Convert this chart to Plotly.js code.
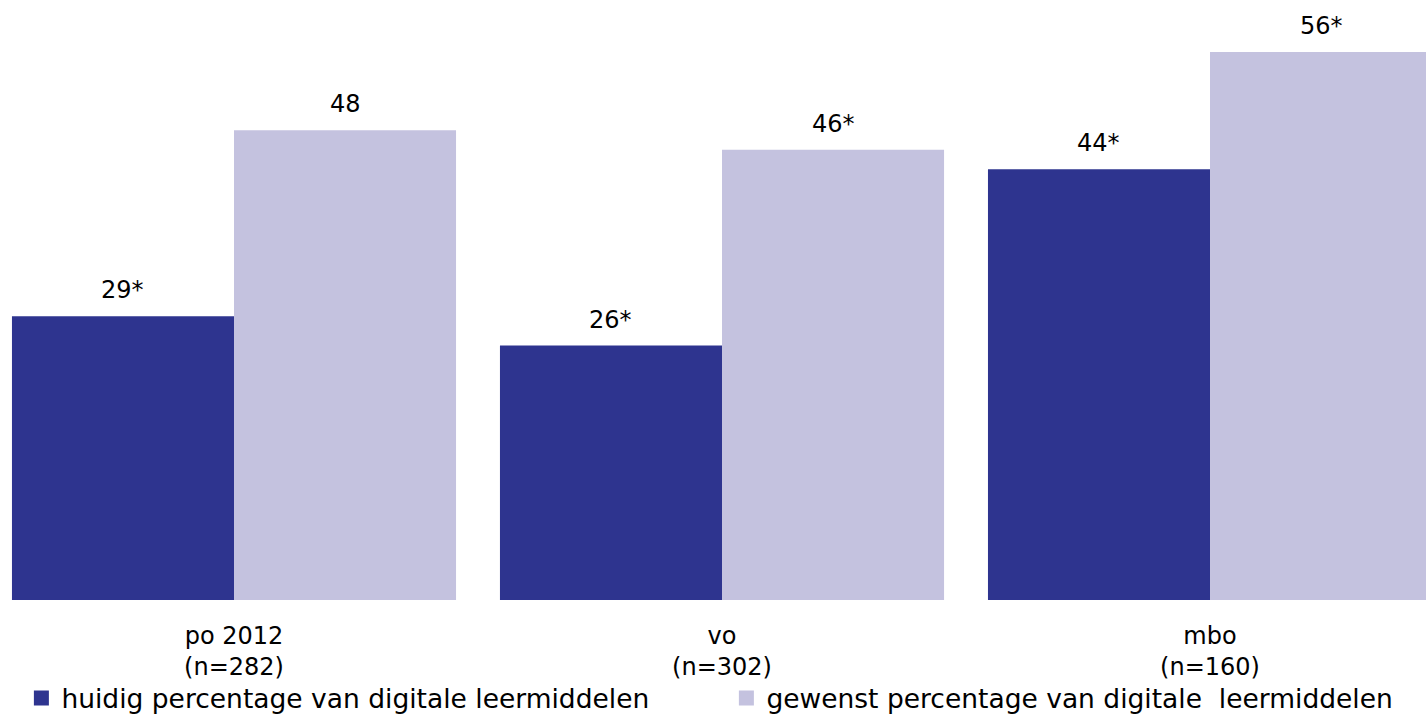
<!DOCTYPE html>
<html>
<head>
<meta charset="utf-8">
<script src="https://cdn.plot.ly/plotly-3.0.1.min.js"></script>
<style>html,body{margin:0;padding:0;background:#fff;}#chart{width:1426px;height:714px;}</style>
</head>
<body>
<div id="chart"></div>
<script>
const categories = ["po 2012<br>(n=282)", "vo<br>(n=302)", "mbo<br>(n=160)"];
const seriesNames = ["huidig percentage van digitale leermiddelen", "gewenst percentage van digitale  leermiddelen"];
const huidigValues = [29, 26, 44];
const gewenstValues = [48, 46, 56];
const huidigLabels = ["29*", "26*", "44*"];
const gewenstLabels = ["48", "46*", "56*"];

const colors = ["#2E348F", "#C4C2DF"];
const font = {family: "DejaVu Sans, Verdana, sans-serif", size: 24, color: "#000"};
const legendFont = {family: "DejaVu Sans, Verdana, sans-serif", size: 26.5, color: "#000"};
const bargap = 0.09;
const half = (1 - bargap) / 4;

const traces = [
  {type: "bar", name: seriesNames[0], x: [0,1,2], y: huidigValues, marker: {color: colors[0]}, hoverinfo: "none", showlegend: false},
  {type: "bar", name: seriesNames[1], x: [0,1,2], y: gewenstValues, marker: {color: colors[1]}, hoverinfo: "none", showlegend: false},
  // legend entries with larger square swatches
  {type: "scatter", mode: "markers", name: seriesNames[0], x: [null], y: [null], marker: {symbol: "square", size: 15, color: colors[0]}, hoverinfo: "none"},
  {type: "scatter", mode: "markers", name: seriesNames[1], x: [null], y: [null], marker: {symbol: "square", size: 15, color: colors[1]}, hoverinfo: "none"}
];

const annotations = [];
[[huidigValues, huidigLabels, -half], [gewenstValues, gewenstLabels, half]].forEach(([vals, labs, off]) => {
  vals.forEach((v, i) => {
    annotations.push({x: i + off, y: v, text: labs[i], showarrow: false, yanchor: "bottom", yshift: 10, font: font});
  });
});

const layout = {
  width: 1426, height: 714,
  margin: {l: 0, r: 0, t: 0, b: 114},
  paper_bgcolor: "#fff", plot_bgcolor: "#fff",
  font: font,
  barmode: "group", bargap: bargap, bargroupgap: 0,
  showlegend: true,
  legend: {orientation: "h", xref: "container", yref: "container", x: 0.015, xanchor: "left", y: 0.022, yanchor: "middle", font: legendFont, entrywidth: 660, entrywidthmode: "pixels", itemwidth: 30, tracegroupgap: 0, bgcolor: "rgba(0,0,0,0)"},
  xaxis: {range: [-0.4795, 2.4426], tickvals: [0,1,2], ticktext: categories, showgrid: false, zeroline: false, showline: false, ticks: "", ticklabelstandoff: 19, tickfont: font, fixedrange: true, automargin: false},
  yaxis: {range: [0, 61.3], visible: false, showgrid: false, zeroline: false, fixedrange: true},
  annotations: annotations
};

Plotly.newPlot("chart", traces, layout, {displayModeBar: false, staticPlot: true});
</script>
</body>
</html>
